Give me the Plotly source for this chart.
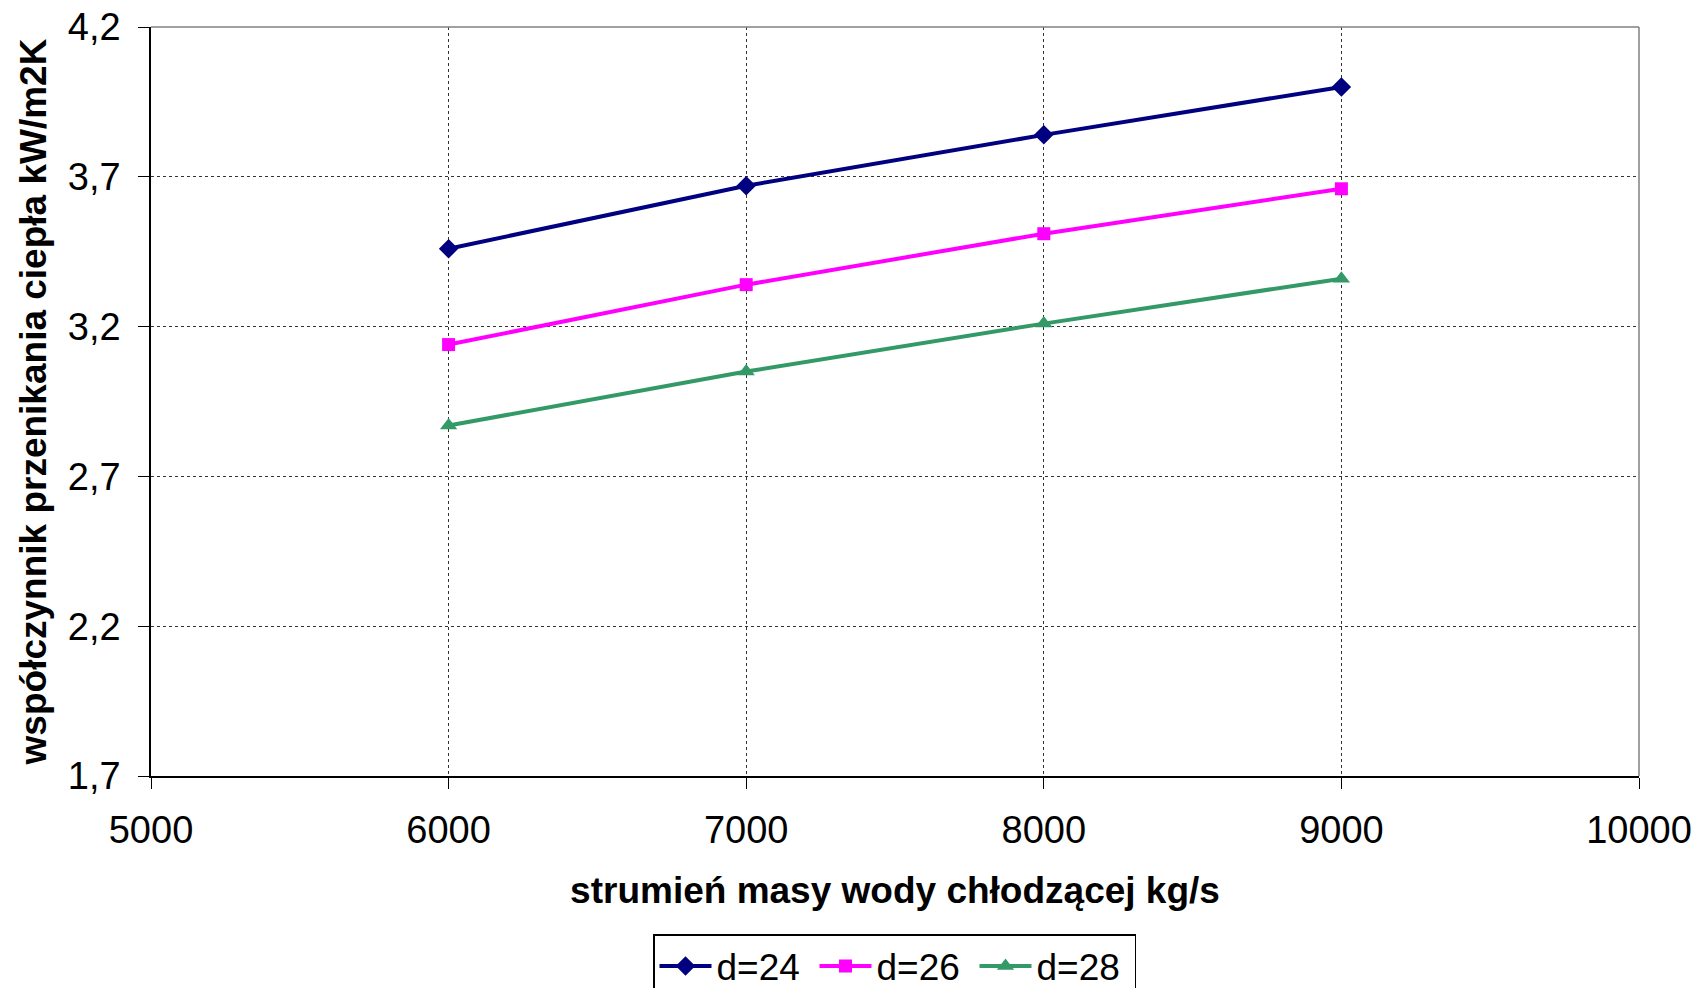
import plotly.graph_objects as go

x_vals = [6000, 7000, 8000, 9000]
d24 = [3.46, 3.67, 3.84, 4.00]
d26 = [3.14, 3.34, 3.51, 3.66]
d28 = [2.87, 3.05, 3.21, 3.36]
series_names = ["d=24", "d=26", "d=28"]
colors = ["#000080", "#FF00FF", "#339966"]
symbols = ["diamond", "square", "triangle-up"]
marker_sizes = [15, 13, 15]

y_ticks = [1.7, 2.2, 2.7, 3.2, 3.7, 4.2]
y_ticktext = ["1,7", "2,2", "2,7", "3,2", "3,7", "4,2"]
x_ticks = [5000, 6000, 7000, 8000, 9000, 10000]

FONT = "Liberation Sans, Arial, sans-serif"

fig = go.Figure()
for name, ys, c, s, ms in zip(series_names, [d24, d26, d28], colors, symbols, marker_sizes):
    fig.add_trace(go.Scatter(
        x=x_vals, y=ys, name=name, mode="lines+markers",
        line=dict(color=c, width=4),
        marker=dict(symbol=s, size=ms, color=c),
    ))

fig.update_layout(
    width=1695, height=988,
    margin=dict(l=151, r=56, t=27, b=212, autoexpand=False),
    paper_bgcolor="white", plot_bgcolor="white",
    font=dict(family=FONT, size=38, color="black"),
    showlegend=True,
    legend=dict(
        orientation="h", x=653 / 1695, xref="container", xanchor="left",
        y=(988 - 934) / 988, yref="container", yanchor="top",
        bordercolor="black", borderwidth=1.5, bgcolor="white",
        font=dict(size=37), itemwidth=52, tracegroupgap=0,
        entrywidth=93, entrywidthmode="pixels",
    ),
)

fig.update_xaxes(
    range=[5000, 10000], tickvals=x_ticks, ticktext=[str(v) for v in x_ticks],
    showgrid=True, gridcolor="#333333", griddash="dot", gridwidth=1.2,
    showline=True, linecolor="black", linewidth=1.5, mirror=False,
    ticks="outside", ticklen=11, tickcolor="black", tickwidth=1.2,
    ticklabelstandoff=9, zeroline=False, automargin=False,
    title=dict(text="<b>strumień masy wody chłodzącej kg/s</b>",
               font=dict(size=37), standoff=27),
)
fig.update_yaxes(
    range=[1.7, 4.2], tickvals=y_ticks, ticktext=y_ticktext,
    showgrid=True, gridcolor="#333333", griddash="dot", gridwidth=1.2,
    showline=True, linecolor="black", linewidth=1.5, mirror=False,
    ticks="outside", ticklen=11, tickcolor="black", tickwidth=1.2,
    ticklabelstandoff=10, zeroline=False, automargin=False,
    title=dict(text="<b>współczynnik przenikania ciepła kW/m2K</b>",
               font=dict(size=37), standoff=10),
)

# gray top/right border like the reference
fig.add_shape(type="line", xref="paper", yref="paper", x0=0, x1=1, y0=1, y1=1,
              line=dict(color="#808080", width=1.5))
fig.add_shape(type="line", xref="paper", yref="paper", x0=1, x1=1, y0=0, y1=1,
              line=dict(color="#808080", width=1.5))

fig.write_html("out.html")
